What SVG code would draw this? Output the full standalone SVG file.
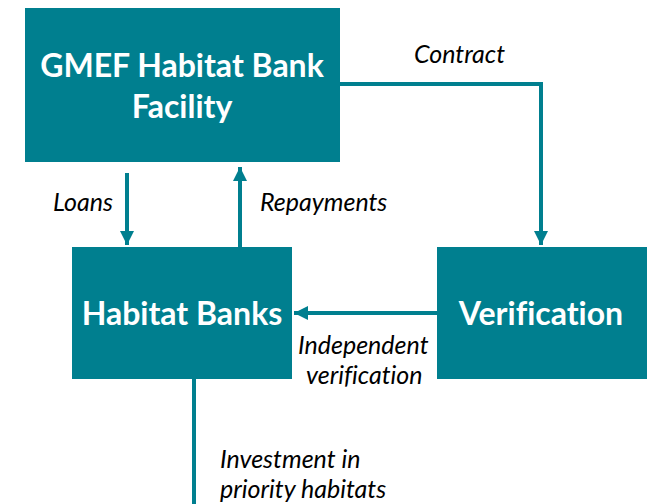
<svg xmlns="http://www.w3.org/2000/svg" width="647" height="504" viewBox="0 0 647 504">
<style>
.box{fill:#007f8f}
.t{font-family:Lato,"Open Sans","Liberation Sans",sans-serif;font-weight:bold;fill:#fff;text-anchor:middle;font-size:32px;font-variant-ligatures:none}
.l{font-family:Lato,"Open Sans","Liberation Sans",sans-serif;font-style:italic;fill:#000;font-size:25px;font-variant-ligatures:none}
.c{stroke:#007f8f;stroke-width:4;fill:none}
</style>
<defs>
<marker id="ah" viewBox="0 0 10 10" refX="10" refY="5" markerWidth="3.6" markerHeight="3.6" orient="auto" markerUnits="strokeWidth">
<path d="M0,0 L10,5 L0,10 Z" fill="#007f8f"/>
</marker>
</defs>
<rect width="647" height="504" fill="#fff"/>
<g id="connectors">
<path class="c" d="M340,84 H541 V245" marker-end="url(#ah)"/>
<path class="c" d="M127,173 V245" marker-end="url(#ah)"/>
<path class="c" d="M240,247 V167" marker-end="url(#ah)"/>
<path class="c" d="M437,313 H294" marker-end="url(#ah)"/>
<path class="c" d="M194,379 V504"/>
<text class="l" x="414" y="63">Contract</text>
<text class="l" x="53" y="211">Loans</text>
<text class="l" x="260" y="211">Repayments</text>
<text class="l" x="298" y="354">Independent</text>
<text class="l" x="306" y="384">verification</text>
<text class="l" x="220" y="468">Investment in</text>
<text class="l" x="220" y="498">priority habitats</text>
</g>
<g id="gmef">
<rect class="box" x="25" y="8" width="315" height="154"/>
<text class="t" x="182" y="77">GMEF Habitat Bank</text>
<text class="t" x="182" y="118">Facility</text>
</g>
<g id="habitat-banks">
<rect class="box" x="72" y="247" width="220" height="132"/>
<text class="t" x="182" y="325">Habitat Banks</text>
</g>
<g id="verification">
<rect class="box" x="437" y="247" width="210" height="132"/>
<text class="t" x="541" y="325">Verification</text>
</g>
</svg>
